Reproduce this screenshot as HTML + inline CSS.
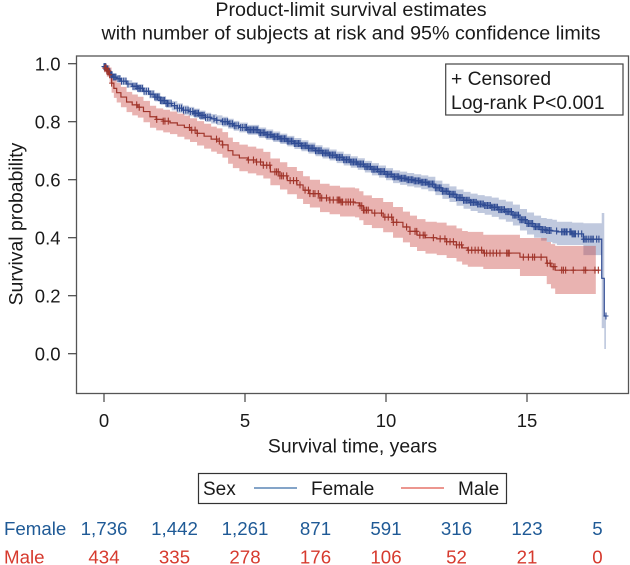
<!DOCTYPE html>
<html>
<head>
<meta charset="utf-8">
<style>
html,body{margin:0;padding:0;background:#fff;width:630px;height:565px;overflow:hidden}
svg{display:block;filter:blur(0.35px)}
text{font-family:"Liberation Sans",sans-serif;fill:#1a1a1a}
</style>
</head>
<body>
<svg id="chart" xmlns="http://www.w3.org/2000/svg" width="630" height="565" viewBox="0 0 630 565">
  <text x="351" y="16" font-size="19.7" text-anchor="middle">Product-limit survival estimates</text>
  <text x="351" y="39.5" font-size="19.7" text-anchor="middle">with number of subjects at risk and 95% confidence limits</text>
  <g id="bands"></g>
  <g id="lines"></g>
  <g id="censors"></g>
  <rect x="76.5" y="56" width="552" height="337.5" fill="none" stroke="#555" stroke-width="1.3"/>
  <g id="axes"></g>
  <text transform="translate(22.5,224) rotate(-90)" font-size="19.4" text-anchor="middle">Survival probability</text>
  <text x="352.5" y="452.5" font-size="19.4" text-anchor="middle">Survival time, years</text>
  <g>
    <rect x="445.7" y="64" width="177.3" height="51" fill="#fff" stroke="#444" stroke-width="1.2"/>
    <text x="451" y="85" font-size="19.25">+ Censored</text>
    <text x="451" y="109" font-size="19.25">Log-rank P&lt;0.001</text>
  </g>
  <g>
    <rect x="198.5" y="473.5" width="308" height="30" fill="#fff" stroke="#333" stroke-width="1.2"/>
    <text x="203" y="495" font-size="19">Sex</text>
    <line x1="254" x2="297" y1="488" y2="488" stroke="#3a6ea8" stroke-width="1.3"/>
    <text x="311" y="495" font-size="19">Female</text>
    <line x1="401" x2="444" y1="488" y2="488" stroke="#e0584c" stroke-width="1.3"/>
    <text x="458" y="495" font-size="19">Male</text>
  </g>
  <g id="risk"></g>
</svg>
<script>
var xTicks = [0, 5, 10, 15];
var yTicks = [0.0, 0.2, 0.4, 0.6, 0.8, 1.0];

var femaleTime = [0,0.08,0.16,0.24,0.32,0.45,0.6,0.8,1.0,1.2,1.4,1.6,1.8,2.0,2.2,2.4,2.6,2.8,3.0,3.2,3.4,3.6,3.8,4.0,4.2,4.4,4.6,4.8,5.1,5.5,5.75,6.0,6.25,6.5,6.75,7.0,7.25,7.5,7.75,8.0,8.25,8.5,8.75,9.0,9.25,9.5,9.75,10.0,10.25,10.5,10.75,11.0,11.25,11.5,11.75,12.0,12.25,12.5,12.75,13.0,13.25,13.5,13.75,14.0,14.25,14.5,14.75,15.0,15.25,15.5,15.7,15.9,16.06,16.6,17.0,17.65,17.74];
var femaleSurv = [0.99,0.982,0.972,0.962,0.954,0.948,0.94,0.93,0.922,0.915,0.905,0.895,0.885,0.873,0.863,0.855,0.847,0.84,0.835,0.829,0.822,0.815,0.81,0.805,0.80,0.793,0.786,0.78,0.772,0.762,0.755,0.748,0.741,0.733,0.725,0.717,0.709,0.70,0.692,0.685,0.677,0.669,0.661,0.654,0.645,0.636,0.628,0.619,0.61,0.605,0.60,0.596,0.591,0.585,0.572,0.56,0.55,0.538,0.529,0.522,0.516,0.511,0.505,0.497,0.49,0.478,0.462,0.449,0.438,0.428,0.425,0.423,0.42,0.413,0.395,0.26,0.13];
var femaleLower = [0.98,0.972,0.961,0.951,0.943,0.936,0.927,0.917,0.908,0.901,0.891,0.881,0.87,0.858,0.848,0.839,0.831,0.824,0.819,0.813,0.806,0.799,0.794,0.788,0.783,0.776,0.769,0.763,0.755,0.744,0.737,0.73,0.723,0.715,0.706,0.698,0.69,0.681,0.673,0.666,0.657,0.649,0.641,0.634,0.625,0.615,0.607,0.598,0.588,0.582,0.577,0.573,0.567,0.56,0.547,0.534,0.523,0.51,0.50,0.492,0.485,0.479,0.472,0.463,0.455,0.442,0.425,0.411,0.40,0.39,0.385,0.38,0.375,0.375,0.34,0.088,0.016];
var femaleUpper = [1.0,0.992,0.983,0.973,0.965,0.96,0.953,0.943,0.936,0.929,0.919,0.909,0.90,0.888,0.878,0.871,0.863,0.856,0.851,0.845,0.838,0.831,0.826,0.822,0.817,0.81,0.803,0.797,0.789,0.78,0.773,0.766,0.759,0.751,0.744,0.736,0.728,0.719,0.711,0.704,0.697,0.689,0.681,0.674,0.665,0.657,0.649,0.64,0.632,0.628,0.623,0.619,0.615,0.61,0.597,0.586,0.577,0.566,0.558,0.552,0.547,0.543,0.538,0.531,0.525,0.514,0.499,0.487,0.476,0.468,0.465,0.462,0.455,0.452,0.45,0.485,0.13];
var femaleEnd = 17.8;

var maleTime = [0,0.1,0.2,0.27,0.35,0.45,0.6,0.8,1.0,1.2,1.4,1.63,1.85,2.1,2.34,2.6,2.85,3.05,3.3,3.55,3.8,4.0,4.2,4.4,4.57,4.8,5.1,5.4,5.65,5.9,6.24,6.5,6.84,7.06,7.3,7.66,8.0,8.37,8.9,9.05,9.2,9.5,9.9,10.25,10.6,10.85,11.1,11.4,11.8,12.15,12.5,12.7,12.9,13.45,14.75,15.7,15.85,16.0];
var maleSurv = [0.985,0.975,0.962,0.933,0.915,0.90,0.885,0.868,0.858,0.85,0.835,0.817,0.808,0.802,0.796,0.788,0.78,0.771,0.76,0.75,0.74,0.733,0.72,0.70,0.685,0.675,0.668,0.661,0.65,0.627,0.613,0.597,0.582,0.564,0.552,0.537,0.53,0.523,0.52,0.51,0.495,0.485,0.471,0.453,0.437,0.422,0.409,0.40,0.396,0.386,0.375,0.365,0.357,0.347,0.333,0.312,0.30,0.288];
var maleLower = [0.97,0.955,0.935,0.90,0.882,0.866,0.85,0.833,0.822,0.814,0.798,0.779,0.77,0.763,0.757,0.748,0.739,0.73,0.718,0.707,0.697,0.689,0.676,0.655,0.64,0.629,0.622,0.615,0.604,0.581,0.566,0.55,0.534,0.516,0.504,0.488,0.481,0.473,0.47,0.46,0.444,0.433,0.419,0.40,0.384,0.368,0.354,0.345,0.34,0.33,0.318,0.307,0.30,0.292,0.268,0.24,0.225,0.206];
var maleUpper = [1.0,0.995,0.987,0.965,0.948,0.934,0.92,0.903,0.894,0.886,0.872,0.855,0.846,0.841,0.835,0.828,0.821,0.812,0.802,0.793,0.783,0.777,0.764,0.745,0.73,0.721,0.714,0.707,0.696,0.673,0.66,0.644,0.63,0.612,0.60,0.586,0.579,0.573,0.57,0.56,0.546,0.537,0.523,0.506,0.49,0.476,0.464,0.455,0.452,0.442,0.432,0.423,0.42,0.41,0.399,0.385,0.378,0.372];
var maleEnd = 17.44;

var femaleCensor = [0,0.03,0.06,0.1,0.13,0.17,0.2,0.24,0.28,0.33,0.38,0.42,0.5,0.56,0.62,0.7,0.78,0.85,1.03,1.1,1.16,1.2,1.25,1.3,1.36,1.42,1.5,1.58,1.66,1.74,1.8,1.85,1.9,1.95,2.0,2.05,2.1,2.15,2.2,2.25,2.3,2.38,2.5,2.6,2.68,2.75,2.82,2.9,2.98,3.06,3.15,3.2,3.25,3.3,3.35,3.4,3.45,3.5,3.55,3.6,3.68,3.76,3.9,4.0,4.2,4.26,4.32,4.38,4.44,4.5,4.56,4.62,4.68,4.76,4.85,4.92,5.0,5.05,5.1,5.15,5.2,5.25,5.3,5.35,5.4,5.45,5.5,5.55,5.6,5.65,5.7,5.75,5.8,5.85,5.9,5.95,6.0,6.05,6.1,6.15,6.2,6.25,6.3,6.35,6.4,6.45,6.5,6.55,6.6,6.65,6.7,6.75,6.8,6.85,6.9,6.95,7.0,7.05,7.1,7.15,7.2,7.25,7.3,7.35,7.4,7.45,7.5,7.55,7.6,7.65,7.7,7.75,7.8,7.85,7.9,7.95,8.0,8.05,8.1,8.15,8.2,8.25,8.3,8.35,8.4,8.45,8.5,8.55,8.6,8.65,8.7,8.75,8.8,8.85,8.9,8.95,9.0,9.05,9.1,9.15,9.2,9.25,9.3,9.35,9.4,9.45,9.5,9.55,9.6,9.65,9.7,9.75,9.8,9.85,9.9,9.95,10.0,10.05,10.1,10.15,10.2,10.25,10.3,10.35,10.4,10.45,10.5,10.55,10.6,10.65,10.7,10.75,10.8,10.85,10.9,10.95,11.0,11.05,11.1,11.15,11.2,11.25,11.3,11.35,11.4,11.45,11.5,11.55,11.6,11.65,11.7,11.75,11.8,11.85,11.9,11.95,12.0,12.05,12.1,12.15,12.2,12.25,12.3,12.35,12.4,12.45,12.5,12.55,12.6,12.65,12.7,12.75,12.8,12.85,12.9,12.95,13.0,13.05,13.1,13.15,13.2,13.25,13.3,13.35,13.4,13.45,13.5,13.55,13.6,13.65,13.7,13.75,13.8,13.85,13.9,13.95,14.0,14.05,14.1,14.15,14.2,14.25,14.3,14.35,14.4,14.45,14.5,14.55,14.6,14.65,14.7,14.75,14.8,14.85,14.9,14.95,15.0,15.05,15.1,15.15,15.2,15.25,15.3,15.35,15.4,15.45,15.5,15.55,15.6,15.65,15.7,15.75,15.8,15.85,16.05,16.23,16.28,16.33,16.38,16.42,16.52,16.56,16.6,16.64,16.68,16.72,16.82,16.94,17.0,17.05,17.1,17.17,17.24,17.3,17.35,17.47,17.55,17.8];
var maleCensor = [0.03,0.07,0.1,0.14,0.17,0.2,0.27,1.16,1.25,1.87,2.1,2.16,2.28,3.03,3.11,3.23,3.31,3.99,4.09,4.21,5.12,5.3,5.41,5.55,5.65,5.77,5.88,6.06,6.12,6.18,6.24,6.3,6.36,6.48,6.6,6.72,6.83,6.95,7.13,7.25,7.3,7.42,7.48,7.6,7.66,7.72,7.89,8.01,8.13,8.27,8.32,8.36,8.41,8.46,8.58,8.66,8.74,8.84,9.08,9.14,9.2,9.25,9.31,9.37,9.6,9.84,9.96,10.08,10.2,10.26,10.38,10.73,10.85,11.03,11.09,11.2,11.32,11.38,11.68,11.92,12.09,12.15,12.27,12.39,12.5,12.6,12.68,12.92,13.04,13.16,13.27,13.39,13.49,13.57,13.69,13.8,13.92,14.04,14.28,14.33,14.37,14.87,15.05,15.2,15.27,15.5,15.72,15.82,15.93,15.99,16.23,16.29,16.37,16.64,17.02,17.08,17.41,17.53];

var riskTimes = [0, 2.5, 5, 7.5, 10, 12.5, 15, 17.5];
var femaleRisk = ["1,736","1,442","1,261","871","591","316","123","5"];
var maleRisk = ["434","335","278","176","106","52","21","0"];

var SVGNS = 'http://www.w3.org/2000/svg';
function xScale(t){ return 104 + t * 28.2; }
function yScale(s){ return 353.7 - s * 290; }
function make(parent, tag, attrs){
  var el = document.createElementNS(SVGNS, tag);
  for (var k in attrs) el.setAttribute(k, attrs[k]);
  parent.appendChild(el);
  return el;
}
function stepPath(times, values, end){
  var d = '';
  for (var i = 0; i < times.length; i++){
    d += (i ? 'H' + xScale(times[i]).toFixed(2) + 'V' : 'M' + xScale(times[i]).toFixed(2) + ' ') + yScale(values[i]).toFixed(2);
  }
  return d + 'H' + xScale(end).toFixed(2);
}
function bandPath(times, lower, upper, end){
  var d = stepPath(times, upper, end);
  d += 'V' + yScale(lower[lower.length - 1]).toFixed(2);
  for (var i = times.length - 1; i >= 0; i--){
    d += 'H' + xScale(times[i]).toFixed(2);
    if (i > 0) d += 'V' + yScale(lower[i - 1]).toFixed(2);
  }
  return d + 'Z';
}
function survAt(times, values, t){
  var v = values[0];
  for (var i = 0; i < times.length; i++){ if (times[i] <= t) v = values[i]; }
  return v;
}
var bands = document.getElementById('bands');
var lines = document.getElementById('lines');
var censors = document.getElementById('censors');

var femaleBand = make(bands, 'path', {d: bandPath(femaleTime, femaleLower, femaleUpper, femaleEnd), fill: '#2f4b93', 'fill-opacity': 0.3});


var maleBand = make(bands, 'path', {d: bandPath(maleTime, maleLower, maleUpper, maleEnd), fill: '#c8403c', 'fill-opacity': 0.4});



var femaleLine = make(lines, 'path', {d: stepPath(femaleTime, femaleSurv, femaleEnd), fill: 'none', stroke: '#2f4b93', 'stroke-width': 1.2});


var maleLine = make(lines, 'path', {d: stepPath(maleTime, maleSurv, maleCensor[maleCensor.length - 1]), fill: 'none', stroke: '#a0342a', 'stroke-width': 1.2});



femaleCensor.forEach(function(t){
  var cx = xScale(t), cy = yScale(survAt(femaleTime, femaleSurv, t));
  var m = make(censors, 'path', {d: 'M' + cx + ' ' + (cy - 3.5) + 'V' + (cy + 3.5) + 'M' + (cx - 2.5) + ' ' + cy + 'H' + (cx + 2.5), stroke: '#2f4b93', 'stroke-width': 1.1, fill: 'none'});
  
  
});
maleCensor.forEach(function(t){
  var cx = xScale(t), cy = yScale(survAt(maleTime, maleSurv, t));
  var m = make(censors, 'path', {d: 'M' + cx + ' ' + (cy - 3.5) + 'V' + (cy + 3.5) + 'M' + (cx - 2.5) + ' ' + cy + 'H' + (cx + 2.5), stroke: '#a0342a', 'stroke-width': 1.1, fill: 'none'});
  
  
});

var axes = document.getElementById('axes');
xTicks.forEach(function(v){
  var px = xScale(v);
  var tick = make(axes, 'line', {x1: px, x2: px, y1: 393.5, y2: 402, stroke: '#444', 'stroke-width': 1.2});
  
  
  var lab = make(axes, 'text', {x: px, y: 427, 'font-size': 18.5, 'text-anchor': 'middle'});
  
  
  lab.textContent = String(v);
});
yTicks.forEach(function(v){
  var py = yScale(v);
  var tick = make(axes, 'line', {x1: 68, x2: 76.5, y1: py, y2: py, stroke: '#444', 'stroke-width': 1.2});
  
  
  var lab = make(axes, 'text', {x: 60.5, y: py + 6.7, 'font-size': 18.5, 'text-anchor': 'end'});
  
  
  lab.textContent = v.toFixed(1);
});

var risk = document.getElementById('risk');
var femaleHead = make(risk, 'text', {x: 4, y: 535, 'font-size': 18.7, style: 'fill:#1f5a96'});


femaleHead.textContent = 'Female';
var maleHead = make(risk, 'text', {x: 4, y: 563.5, 'font-size': 18.7, style: 'fill:#d63a2e'});


maleHead.textContent = 'Male';
riskTimes.forEach(function(t, i){
  var f = make(risk, 'text', {x: xScale(t), y: 535, 'font-size': 18.7, 'text-anchor': 'middle', style: 'fill:#1f5a96'});
  
  
  f.textContent = femaleRisk[i];
  var m = make(risk, 'text', {x: xScale(t), y: 563.5, 'font-size': 18.7, 'text-anchor': 'middle', style: 'fill:#d63a2e'});
  
  
  m.textContent = maleRisk[i];
});
</script>
</body>
</html>
